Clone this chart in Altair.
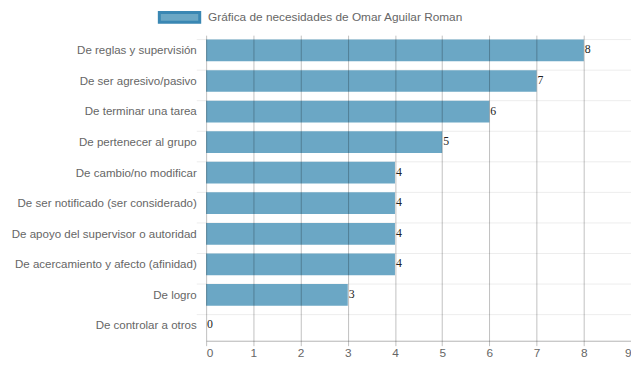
import altair as alt
import pandas as pd

categories = [
    "De reglas y supervisión",
    "De ser agresivo/pasivo",
    "De terminar una tarea",
    "De pertenecer al grupo",
    "De cambio/no modificar",
    "De ser notificado (ser considerado)",
    "De apoyo del supervisor o autoridad",
    "De acercamiento y afecto (afinidad)",
    "De logro",
    "De controlar a otros",
]
values = [8, 7, 6, 5, 4, 4, 4, 4, 3, 0]
series_name = "Gráfica de necesidades de Omar Aguilar Roman"
x_ticks = list(range(0, 10))

df = pd.DataFrame({"cat": categories, "val": values, "serie": [series_name] * len(categories)})

FONT = "Liberation Sans"

y_enc = alt.Y(
    "cat:N",
    sort=categories,
    title=None,
    scale=alt.Scale(paddingInner=0.29, paddingOuter=0.145),
    axis=alt.Axis(
        bandPosition=0,
        grid=True,
        gridColor="#000000",
        gridOpacity=0.08,
        tickColor="#000000",
        tickOpacity=0.08,
        tickSize=10,
        domain=False,
        labelColor="#666666",
        labelFont=FONT,
        labelFontSize=11.7,
        labelPadding=0,
        labelLimit=0,
    ),
)

x_enc = alt.X(
    "val:Q",
    title=None,
    scale=alt.Scale(domain=[0, 9], nice=False),
    axis=alt.Axis(
        values=x_ticks,
        grid=True,
        gridColor="#000000",
        gridOpacity=0.25,
        tickColor="#000000",
        tickOpacity=0.25,
        tickSize=5,
        domainColor="#000000",
        domainOpacity=0.3,
        labelColor="#666666",
        labelFont=FONT,
        labelFontSize=12,
        labelPadding=2,
        zindex=1,
    ),
)

bars = alt.Chart(df).mark_bar(fillOpacity=1).encode(
    y=y_enc,
    x=x_enc,
    color=alt.Color(
        "serie:N",
        scale=alt.Scale(range=["#6ba7c5"]),
        legend=alt.Legend(
            title=None,
            orient="none",
            legendX=-49,
            legendY=-40,
            symbolType="M-1,-0.244H1V0.244H-1Z",
            symbolSize=1681,
            symbolStrokeColor="#3a87b3",
            symbolStrokeWidth=3,
            symbolFillColor="#6ba7c5",
            symbolOpacity=1,
            labelColor="#666666",
            labelFont=FONT,
            labelFontSize=12,
            labelOffset=7,
            labelLimit=0,
            padding=0,
        ),
    ),
)

labels = alt.Chart(df).mark_text(
    align="left", baseline="middle", dx=1, dy=-1, font="Liberation Serif", fontSize=12, color="#222222"
).encode(
    y=alt.Y("cat:N", sort=categories),
    x=alt.X("val:Q"),
    text=alt.Text("val:Q"),
)

chart = alt.layer(bars, labels).properties(
    width=431,
    height=310,
    autosize=alt.AutoSizeParams(type="none"),
    padding={"left": 201, "top": 25, "right": 0, "bottom": 17},
).configure_view(stroke=None)

chart.save("out.html", embed_options={"renderer": "svg", "actions": False})
